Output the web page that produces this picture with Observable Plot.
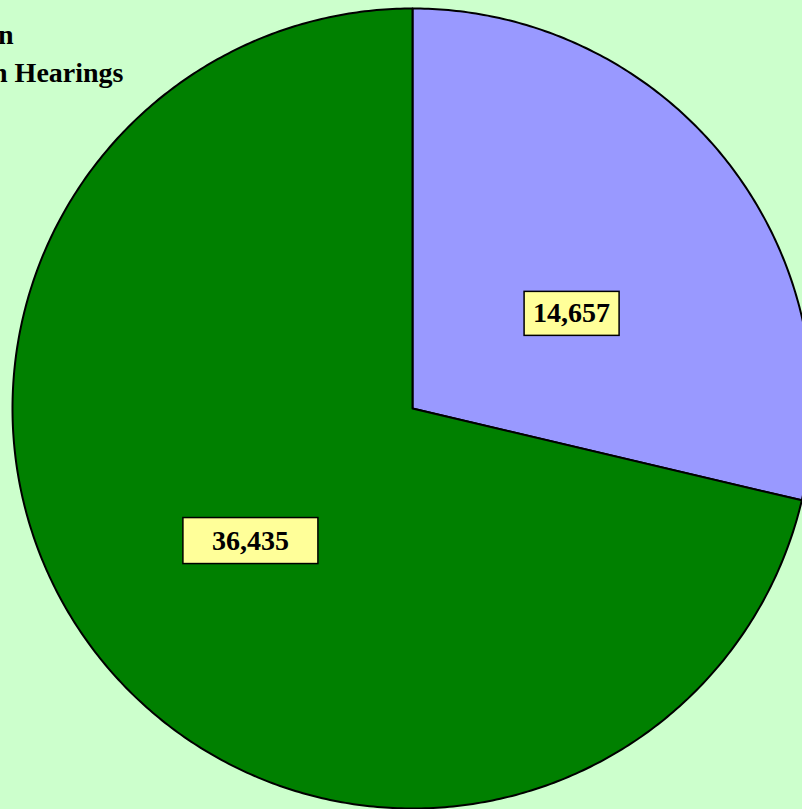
<!DOCTYPE html>
<html>
<head>
<meta charset="utf-8">
<script src="https://cdn.jsdelivr.net/npm/d3@7"></script>
<script src="https://cdn.jsdelivr.net/npm/@observablehq/plot@0.6"></script>
<style>
  html, body { margin: 0; padding: 0; background: #CCFFCC; overflow: hidden; }
  #chart svg { display: block; }
</style>
</head>
<body>
<div id="chart"></div>
<script>
// ---- data ----
const categories = ["Group A", "Group B"];
const values = [14657, 36435];
const valueLabels = ["14,657", "36,435"];
const legendLines = ["n", "n Hearings"];

// ---- styling ----
const sliceColors = ["#9999FF", "#008000"];
const W = 802, H = 809;

// pie geometry through d3.pie
const pie = d3.pie().sort(null).value(d => d.value)(
  categories.map((c, i) => ({category: c, value: values[i], label: valueLabels[i]}))
);

const outline = [];
pie.forEach((s, i) => {
  const n = Math.max(2, Math.ceil((s.endAngle - s.startAngle) / 0.01));
  outline.push({category: s.data.category, x: 0, y: 0});
  for (let k = 0; k <= n; k++) {
    const a = s.startAngle + (s.endAngle - s.startAngle) * k / n;
    outline.push({category: s.data.category, x: Math.sin(a), y: Math.cos(a)});
  }
  outline.push({category: s.data.category, x: 0, y: 0});
});

const labelR = 0.52;
const labels = pie.map(s => {
  const a = (s.startAngle + s.endAngle) / 2;
  return {category: s.data.category, label: s.data.label, x: labelR * Math.sin(a), y: labelR * Math.cos(a)};
});

const chart = Plot.plot({
  width: W,
  height: H,
  margin: 0,
  style: {background: "#CCFFCC", overflow: "hidden", fontFamily: "'Liberation Serif', 'Times New Roman', serif"},
  x: {domain: [-412 / 400, (W - 412) / 400], axis: null},
  y: {domain: [-(H - 408) / 400, 408 / 400], axis: null},
  color: {domain: categories, range: sliceColors},
  marks: [
    Plot.line(outline, {x: "x", y: "y", z: "category", fill: "category", stroke: "black", strokeWidth: 2, strokeLinejoin: "round"}),
    Plot.text(legendLines.slice(0, 1), {frameAnchor: "top-left", text: d => d, textAnchor: "end", lineAnchor: "bottom", dx: 13, dy: 43, fontSize: 28, fontWeight: "bold", fill: "black"}),
    Plot.text(legendLines.slice(1, 2), {frameAnchor: "top-left", text: d => d, textAnchor: "end", lineAnchor: "bottom", dx: 123, dy: 81, fontSize: 28, fontWeight: "bold", fill: "black"}),
    Plot.text(labels.slice(0, 1), {x: "x", y: "y", text: "label", dx: -4, dy: 34, fontSize: 28, fontWeight: "bold", fill: "black"}),
    Plot.text(labels.slice(1, 2), {x: "x", y: "y", text: "label", dx: 1, dy: 3, fontSize: 28, fontWeight: "bold", fill: "black"})
  ]
});

document.getElementById("chart").appendChild(chart);

// boxes behind value labels
const padX = [9, 29], padY = [8.5, 9.5];
chart.querySelectorAll("text").forEach(t => {
  const i = valueLabels.indexOf(t.textContent.trim());
  if (i < 0) return;
  const b = t.getBBox();
  const r = document.createElementNS("http://www.w3.org/2000/svg", "rect");
  r.setAttribute("x", b.x - padX[i]);
  r.setAttribute("y", b.y - padY[i] + 2.5);
  r.setAttribute("width", b.width + 2 * padX[i]);
  r.setAttribute("height", b.height + 2 * padY[i] - 4);
  r.setAttribute("fill", "#FFFF99");
  r.setAttribute("stroke", "black");
  r.setAttribute("stroke-width", "1.5");
  const tr = t.getAttribute("transform");
  if (tr) r.setAttribute("transform", tr);
  t.parentNode.insertBefore(r, t);
});
</script>
</body>
</html>
